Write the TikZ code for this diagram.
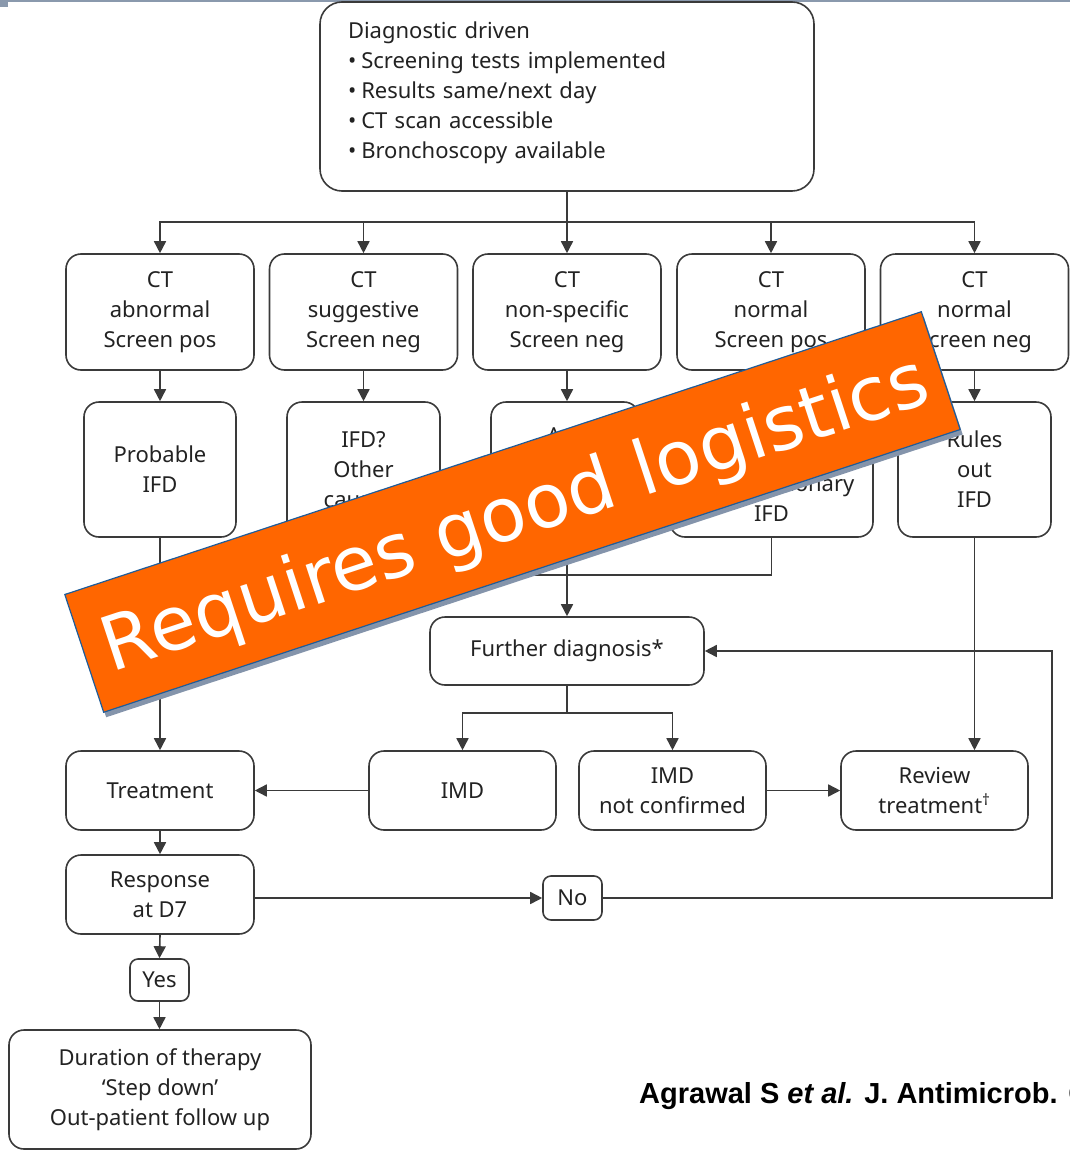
\documentclass[tikz,border=0pt]{standalone}
\usepackage{fontspec}
\setmainfont{Noto Sans}
\newfontfamily\bannerfont{DejaVu Sans}
\newfontfamily\citefont{Liberation Sans}
\usetikzlibrary{arrows.meta}
\definecolor{linegray}{HTML}{3A3A3A}
\definecolor{boxtext}{HTML}{222222}
\definecolor{bannerorange}{HTML}{FF6600}
\definecolor{bannerblue}{HTML}{1F5C99}
\definecolor{bannershadow}{HTML}{8494AB}
\definecolor{topbar}{HTML}{8A99AD}
\begin{document}
\begin{tikzpicture}[x=1pt,y=-1pt,
  box/.style={draw=linegray, line width=1.6pt, rounded corners=15pt, align=center,
    inner sep=0pt, text=boxtext, font=\fontsize{22}{30}\selectfont},
  rowbox/.style={box, minimum width=188pt, minimum height=116pt},
  midbox/.style={box, minimum width=153pt, minimum height=135pt},
  lowbox/.style={box, minimum width=188pt, minimum height=79pt},
  tagbox/.style={box, rounded corners=8pt, minimum width=59pt, minimum height=43pt},
  link/.style={draw=linegray, line width=1.6pt},
  arr/.style={link, -{Triangle[length=12pt,width=12pt]}},
]
\useasboundingbox (0,0) rectangle (1070,1151);

% slide header bar
\fill[topbar] (8,0) rectangle (1070,1.6);
\fill[topbar] (0,0) rectangle (8,7);

% top box
\node[box, rounded corners=22pt, minimum width=494pt, minimum height=189pt,
      align=left, text width=438pt] (diag) at (567,96.5)
  {Diagnostic driven\\
   •\hspace{5pt}Screening tests implemented\\
   •\hspace{5pt}Results same/next day\\
   •\hspace{5pt}CT scan accessible\\
   •\hspace{5pt}Bronchoscopy available\\[-18pt]\mbox{}};

% first row: imaging / screening results
\node[rowbox] (r1a) at (160,312) {CT\\abnormal\\Screen pos};
\node[rowbox] (r1b) at (363.5,312) {CT\\suggestive\\Screen neg};
\node[rowbox] (r1c) at (567,312) {CT\\non-specific\\Screen neg};
\node[rowbox] (r1d) at (771,312) {CT\\normal\\Screen pos};
\node[rowbox] (r1e) at (974.5,312) {CT\\normal\\Screen neg};

% second row: interpretation
\node[midbox, minimum width=152pt] (r2a) at (160,469.5) {Probable\\IFD};
\node[midbox] (r2b) at (363.5,469.5) {IFD?\\Other\\causes?};
\node[midbox, minimum width=148pt, text depth=68pt] (r2c) at (565,469.5) {A\hspace{22pt}};
\node[midbox, minimum width=203pt, text height=103pt] (r2d) at (771.5,469.5) {Extrapulmonary\\IFD};
\node[midbox] (r2e) at (974.5,469.5) {Rules\\out\\IFD};

% further work-up
\node[box, minimum width=274pt, minimum height=68pt] (further) at (567,651) {Further diagnosis*};

% fourth row
\node[lowbox] (treat) at (160,790.5) {Treatment};
\node[lowbox, minimum width=187pt] (imd) at (462.5,790.5) {IMD};
\node[lowbox, minimum width=187pt] (imdnc) at (672.5,790.5) {IMD\\not confirmed};
\node[lowbox, minimum width=187pt] (review) at (934.5,790.5) {Review\\treatment\textsuperscript{†}};

% response assessment
\node[lowbox] (resp) at (160,894.5) {Response\\at D7};
\node[tagbox, minimum height=44pt] (no) at (572.5,898) {No};
\node[tagbox, minimum height=42pt] (yes) at (159.5,980) {Yes};
\node[box, minimum width=302pt, minimum height=119pt] (dur) at (160,1089.5)
  {Duration of therapy\\‘Step down’\\Out-patient follow up};

% connectors
\coordinate (bus) at (567,222);
\draw[link] (diag.south) -- (bus);
\foreach \n in {r1a,r1b,r1d,r1e} \draw[arr] (bus) -| (\n.north);
\draw[arr] (bus) -- (r1c.north);

\draw[arr] (r1a.south) -- (r2a.north);
\draw[arr] (r1b.south) -- (r2b.north);
\draw[arr] (r1c.south) -- (r1c.south |- r2c.north);
\draw[arr] (r1d.south) -- (r1d.south |- r2d.north);
\draw[arr] (r1e.south) -- (r2e.north);

\coordinate (join) at (567,575);
\draw[link] (r2b.south) |- (join);
\draw[link] (r2d.south) |- (join);
\draw[arr] (further.north |- r2c.south) -- (further.north);

\draw[arr] (r2a.south) -- (treat.north);
\draw[arr] (r2e.south) -- (r2e.south |- review.north);

\coordinate (split) at (567,713);
\draw[link] (further.south) -- (split);
\draw[arr] (split) -| (imd.north);
\draw[arr] (split) -| (imdnc.north);

\draw[arr] (imd.west) -- (treat.east);
\draw[arr] (imdnc.east) -- (review.west);

\draw[arr] (treat.south) -- (resp.north);
\draw[arr] (resp.east |- no.west) -- (no.west);
\coordinate (loop) at (1052,898);
\draw[arr] (no.east) -- (loop) |- (further.east);
\draw[arr] (resp.south) -- (yes.north);
\draw[arr] (yes.south) -- (yes.south |- dur.north);

% overlay banner
\node[rotate=18.27, minimum width=902pt, minimum height=124pt, inner sep=0pt,
      fill=bannershadow] (bannershade) at (515,517) {};
\node[rotate=18.27, minimum width=902pt, minimum height=124pt, inner sep=0pt,
      fill=bannerorange, draw=bannerblue, line width=1.2pt] (banner) at (512.5,512) {};
\node[rotate=18.27, inner sep=0pt, text=white,
      font=\bannerfont\fontsize{75}{75}\selectfont] (bannertext) at (516,517)
  {Requires good logistics};

% reference
\node[anchor=base west, inner sep=0pt, font=\citefont\bfseries\fontsize{29}{29}\selectfont]
  (cite) at (639,1103) {Agrawal S \textit{et al.} J. Antimicrob. Chemother.};
\end{tikzpicture}
\end{document}
